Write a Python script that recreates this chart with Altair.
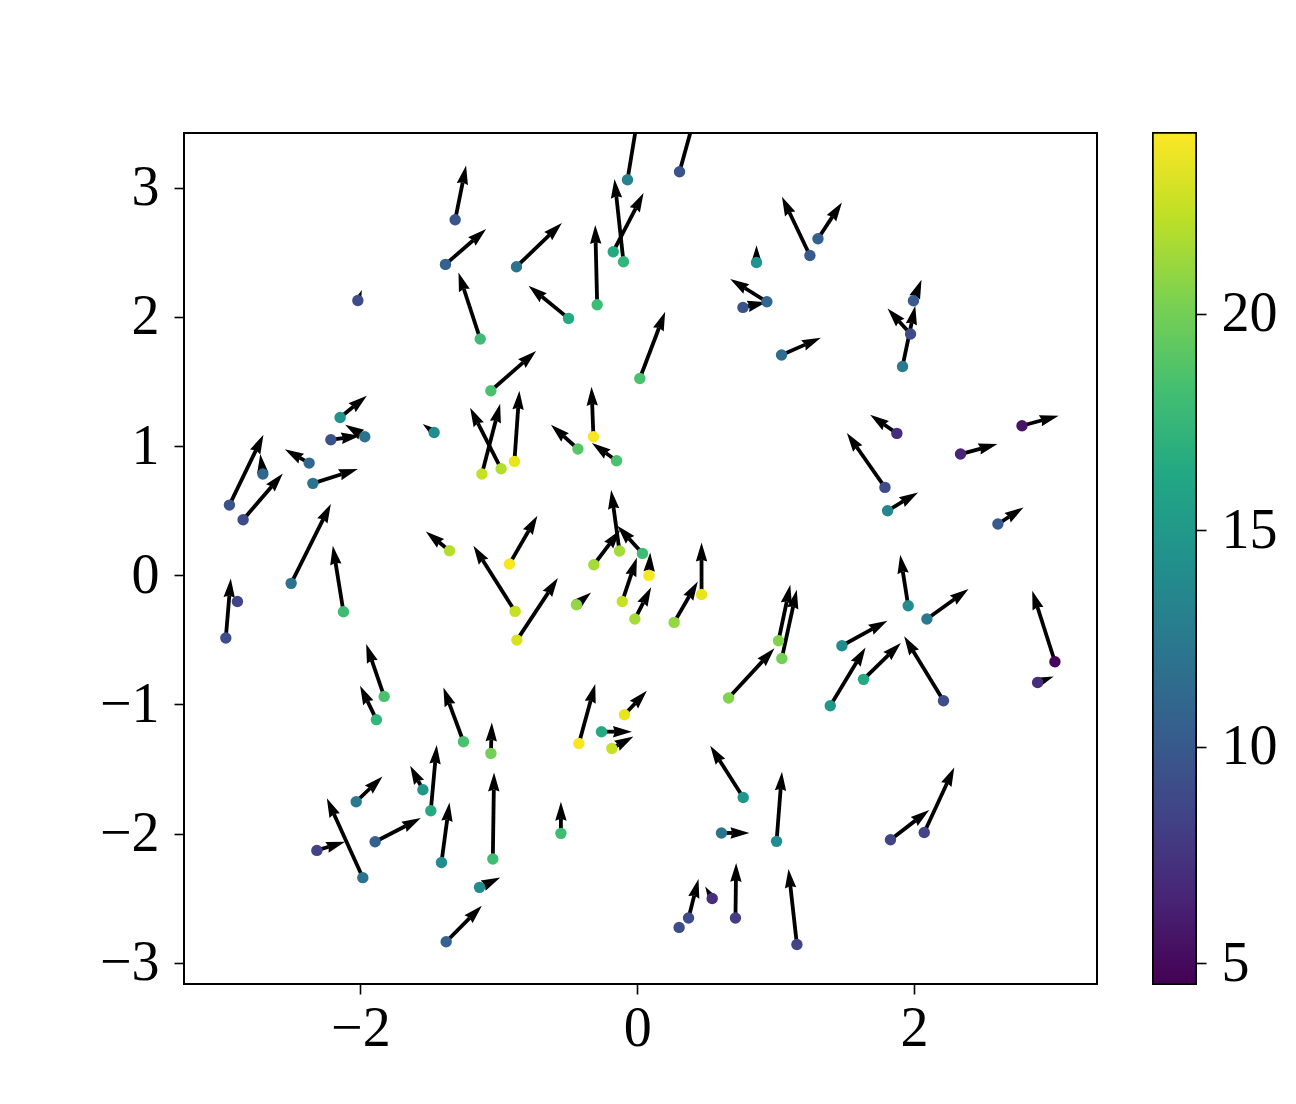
import altair as alt
import pandas as pd
import numpy as np

# ---- data (positions, vectors, colour values) ----
x_vals = [-1.315, -1.385, -2.018, -1.134, -2.146, -0.070, 0.306, -0.872, -0.496, -0.289,
          -0.173, -0.099, 0.019, -1.057, 0.862, 0.937, 0.764, 1.043, 1.248, 1.306,
          1.996, 1.975, 1.917, 2.780, 1.876, 2.336, 1.790, 1.809, 2.606, 1.958,
          2.093, 1.479, 1.635, 1.395, 2.213, 3.018, 2.893, 1.021, 1.045, -0.316,
          -0.428, -0.149, -0.887, -1.122, -0.983, -0.923, -0.882, -0.869, -0.439, -0.313,
          -0.128, 0.038, 0.085, -0.108, -0.017, 0.267, 0.465, 0.660, -2.213, -1.968,
          -1.467, -2.704, -2.946, -2.847, -2.370, -2.343, -2.500, -2.122, -2.888, -2.972,
          -1.356, -1.828, -1.884, -1.255, -1.057, -2.030, -1.548, -1.491, -1.893, -2.314,
          -1.982, -1.414, -1.043, -1.139, -1.380, -0.551, -0.421, -0.092, -0.258, -0.183,
          0.766, 0.609, 1.007, 0.542, 0.371, 0.303, 0.710, 1.830, 2.074, 1.154]
y_vals = [2.751, 2.406, 2.127, 1.828, 1.221, 3.061, 3.123, 2.388, 1.988, 2.094,
          2.504, 2.426, 1.523, 1.428, 2.421, 2.117, 2.073, 1.705, 2.475, 2.605,
          2.125, 1.867, 1.616, 1.157, 1.098, 0.938, 0.680, 0.499, 0.396, -0.236,
          -0.339, -0.546, -0.806, -1.010, -0.971, -0.670, -0.830, -0.507, -0.644, 1.072,
          0.977, 0.886, 0.881, 0.783, 0.824, 0.087, -0.280, -0.502, -0.228, 0.081,
          0.187, 0.169, -0.002, -0.203, -0.339, -0.365, -0.149, -0.950, 1.049, 1.072,
          1.105, 0.783, 0.543, 0.430, 0.868, 0.711, -0.063, -0.283, -0.203, -0.486,
          0.190, -0.938, -1.118, -1.289, -1.379, -1.753, -1.660, -1.823, -2.063, -2.130,
          -2.341, -2.223, -2.197, -2.416, -2.837, -1.998, -1.302, -1.080, -1.211, -1.341,
          -1.720, -1.995, -2.060, -2.502, -2.653, -2.726, -2.653, -2.047, -1.991, -2.858]
u_vals = [0.079, 0.294, 0.029, -0.157, 0.193, 0.092, 0.142, 0.328, -0.289, -0.014,
          0.219, -0.065, 0.183, 0.327, 0.0, -0.265, 0.170, 0.284, -0.202, 0.173,
          0.058, -0.166, 0.092, 0.265, -0.193, 0.267, -0.275, 0.220, 0.185, -0.058,
          0.301, 0.329, 0.270, 0.255, -0.284, -0.164, 0.116, 0.085, 0.108, -0.014,
          -0.195, -0.178, 0.036, 0.132, -0.224, 0.202, -0.301, 0.296, 0.106, 0.190,
          -0.060, -0.181, 0.009, 0.106, 0.118, 0.171, 0.0, 0.332, 0.212, -0.142,
          -0.082, -0.019, 0.246, 0.287, -0.176, 0.325, 0.287, -0.077, 0.0, 0.036,
          -0.171, -0.130, -0.118, -0.145, 0.007, 0.190, -0.092, 0.043, 0.330, 0.204,
          -0.260, 0.058, 0.009, 0.150, 0.258, 0.0, 0.118, 0.162, 0.220, 0.156,
          -0.238, 0.202, 0.039, -0.051, 0.072, 0.0, 0.005, 0.280, 0.217, -0.061]
v_vals = [0.420, 0.274, 0.080, 0.515, 0.168, 0.600, 0.550, 0.338, 0.253, 0.617,
          0.454, 0.640, 0.516, 0.307, 0.134, 0.176, 0.040, 0.133, 0.454, 0.281,
          0.163, 0.198, 0.470, 0.077, 0.145, 0.077, 0.421, 0.142, 0.129, 0.395,
          0.232, 0.194, 0.282, 0.451, 0.498, 0.550, 0.046, 0.433, 0.532, 0.387,
          0.188, 0.137, 0.547, 0.544, 0.472, 0.374, 0.509, 0.480, 0.095, 0.269,
          0.472, 0.214, 0.178, 0.341, 0.245, 0.317, 0.402, 0.384, 0.031, 0.093,
          0.065, 0.155, 0.544, 0.358, 0.108, 0.111, 0.615, 0.511, 0.0, 0.461,
          0.149, 0.406, 0.263, 0.420, 0.240, 0.196, 0.186, 0.509, 0.183, 0.067,
          0.614, 0.464, 0.670, 0.077, 0.279, 0.245, 0.460, 0.186, 0.0, 0.093,
          0.400, 0.0, 0.539, 0.093, 0.302, 0.0, 0.426, 0.230, 0.503, 0.584]
c_vals = [9.5, 10.5, 9.0, 18.0, 14.5, 13.0, 9.5, 12.0, 16.5, 18.0,
          16.5, 17.5, 18.5, 18.5, 14.5, 11.0, 9.5, 11.5, 10.0, 10.5,
          10.0, 9.0, 12.5, 5.5, 7.0, 6.5, 9.0, 13.5, 10.0, 14.0,
          12.5, 14.0, 16.5, 15.0, 9.0, 4.7, 7.0, 20.5, 20.0, 24.0,
          19.0, 18.5, 23.5, 22.5, 22.0, 24.0, 22.5, 23.0, 21.0, 21.5,
          21.5, 18.0, 24.0, 22.5, 21.5, 21.0, 23.5, 20.5, 9.5, 12.0,
          14.0, 11.0, 9.5, 9.0, 11.0, 12.0, 12.0, 18.0, 8.5, 9.0,
          22.0, 18.5, 17.5, 18.5, 20.0, 12.5, 15.0, 16.5, 10.5, 8.5,
          12.0, 14.0, 18.0, 14.0, 10.5, 18.0, 24.0, 23.5, 16.5, 22.5,
          15.0, 12.0, 14.0, 7.0, 9.0, 9.0, 8.0, 8.5, 8.5, 8.5]

x_ticks = [-2, 0, 2]
y_ticks = [-3, -2, -1, 0, 1, 2, 3]
cbar_ticks = [5, 10, 15, 20]

X_DOMAIN = [-3.274, 3.322]
Y_DOMAIN = [-3.164, 3.423]
C_DOMAIN = [4.52, 24.17]
W, H = 913, 851
CB_W = 43

# ---- arrow geometry (matplotlib-quiver-like heads) ----
SHAFT_W = 3.8
HEAD_LEN = 5 * SHAFT_W
HEAD_PATH = "M0,0 L0.3,1 L0,0.9 L-0.3,1 Z"

sx = W / (X_DOMAIN[1] - X_DOMAIN[0])
sy = H / (Y_DOMAIN[1] - Y_DOMAIN[0])

df = pd.DataFrame({"x": x_vals, "y": y_vals, "u": u_vals, "v": v_vals, "c": c_vals})
df["xt"] = df["x"] + df["u"]
df["yt"] = df["y"] + df["v"]
lpx = np.hypot(df["u"] * sx, df["v"] * sy)
hl = np.minimum(HEAD_LEN, lpx)
frac = np.where(lpx > 0, 0.9 * hl / np.where(lpx > 0, lpx, 1), 0.0)
df["xs"] = df["xt"] - frac * df["u"]
df["ys"] = df["yt"] - frac * df["v"]
df["hs"] = 4 * hl ** 2
df["ang"] = np.degrees(np.arctan2(df["u"] * sx, df["v"] * sy)) % 360

FONT = "Liberation Serif"
label_expr = "datum.value < 0 ? '\u2212' + format(-datum.value, 'd') : format(datum.value, 'd')"

x_scale = alt.Scale(domain=X_DOMAIN, nice=False, zero=False)
y_scale = alt.Scale(domain=Y_DOMAIN, nice=False, zero=False)
x_axis = alt.Axis(values=x_ticks, labelExpr=label_expr, labelPadding=7, title=None)
y_axis = alt.Axis(values=y_ticks, labelExpr=label_expr, labelPadding=15, title=None)


def X(field):
    return alt.X(field, type="quantitative", scale=x_scale, axis=x_axis, title=None)


def Y(field):
    return alt.Y(field, type="quantitative", scale=y_scale, axis=y_axis, title=None)


shafts = alt.Chart(df).mark_rule(
    color="black", strokeWidth=SHAFT_W, strokeCap="butt", clip=True
).encode(x=X("x"), y=Y("y"), x2="xs:Q", y2="ys:Q")

heads = alt.Chart(df).mark_point(
    shape=HEAD_PATH, filled=True, color="black", opacity=1, strokeWidth=0, clip=True
).encode(
    x=X("xt"), y=Y("yt"),
    size=alt.Size("hs:Q", scale=None, legend=None),
    angle=alt.Angle("ang:Q", scale=None),
)

dots = alt.Chart(df).mark_circle(size=130, opacity=1).encode(
    x=X("x"), y=Y("y"),
    color=alt.Color("c:Q", scale=alt.Scale(scheme="viridis", domain=C_DOMAIN), legend=None),
)

main = alt.layer(shafts, heads, dots).properties(width=W, height=H)

viridis_stops = ["#440154", "#482475", "#414487", "#355f8d", "#2a788e", "#21918c",
                 "#22a884", "#44bf70", "#7ad151", "#bddf26", "#fde725"]
gradient = {
    "gradient": "linear", "x1": 0, "x2": 0, "y1": 1, "y2": 0,
    "stops": [{"offset": i / 10, "color": col} for i, col in enumerate(viridis_stops)],
}

cb_rect = alt.Chart(pd.DataFrame({"d": [0]})).mark_rect(
    fill=gradient, stroke="black", strokeWidth=1.5
).encode(x=alt.value(0), x2=alt.value(CB_W), y=alt.value(0), y2=alt.value(H))

cb_axis = alt.Chart(pd.DataFrame({"v": cbar_ticks})).mark_point(opacity=0).encode(
    y=alt.Y("v:Q", scale=alt.Scale(domain=C_DOMAIN, nice=False, zero=False),
            axis=alt.Axis(orient="right", values=cbar_ticks, labelPadding=15, title=None),
            title=None)
)

colorbar = alt.layer(cb_rect, cb_axis).properties(width=CB_W, height=H)

chart = alt.hconcat(main, colorbar, spacing=53).properties(
    padding={"left": 90, "top": 123, "right": 0, "bottom": 10},
    background="white",
).configure_view(
    stroke="black", strokeWidth=2
).configure_axis(
    labelFont=FONT, labelFontSize=56, labelColor="black",
    tickColor="black", tickWidth=1.6, tickSize=10,
    domain=False, grid=False,
)

chart.save("out.html", embed_options={"renderer": "svg", "actions": False})
